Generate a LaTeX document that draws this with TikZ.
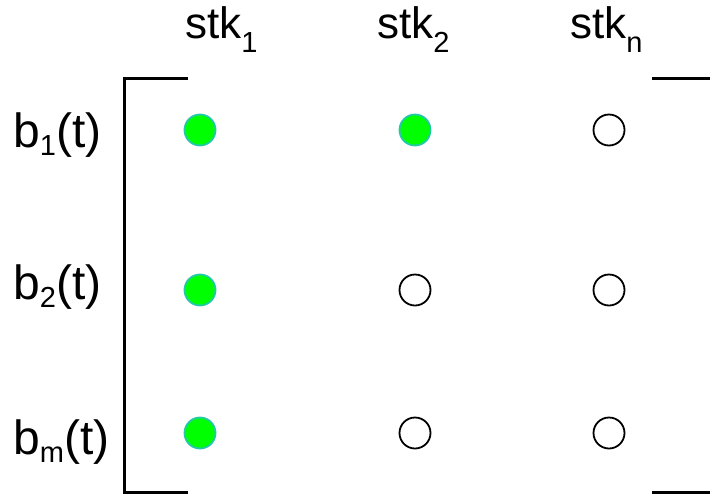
\documentclass[tikz,border=0pt]{standalone}
\usepackage{fontspec}
\setmainfont{Liberation Sans}
% lowered, smaller subscript text
\newcommand{\lowsub}[2]{\raisebox{-#1}{\fontsize{29}{29}\selectfont #2}}
\definecolor{onfill}{HTML}{00FF00}
\definecolor{onedge}{HTML}{22C8A8}
\begin{document}
\begin{tikzpicture}[x=1pt,y=-1pt,
  slot/.style={circle, inner sep=0pt, minimum size=31pt, line width=1.8pt},
  on/.style={slot, draw=onedge, fill=onfill},
  off/.style={slot, draw=black, fill=white},
  collabel/.style={anchor=base west, inner sep=0pt, font=\fontsize{44}{44}\selectfont},
  rowlabel/.style={anchor=base west, inner sep=0pt, font=\fontsize{48}{48}\selectfont},
  bracket/.style={line width=3pt}]
\useasboundingbox (0,0) rectangle (710,496);

% column headers
\node[collabel] (h1) at (185,38) {stk\lowsub{14pt}{1}};
\node[collabel] (h2) at (377,38) {stk\lowsub{14pt}{2}};
\node[collabel] (hn) at (570,38) {stk\lowsub{14pt}{n}};

% row labels
\node[rowlabel] (r1) at (13,147) {b\lowsub{8pt}{1}(t)};
\node[rowlabel] (r2) at (13,299) {b\lowsub{8pt}{2}(t)};
\node[rowlabel] (rm) at (13,454) {b\lowsub{8pt}{m}(t)};

% matrix entries
\node[on]  (c11) at (200,130) {};
\node[on]  (c12) at (415,130) {};
\node[off] (c1n) at (609,130) {};
\node[on]  (c21) at (200,290) {};
\node[off] (c22) at (415,290) {};
\node[off] (c2n) at (609,290) {};
\node[on]  (cm1) at (200,433) {};
\node[off] (cm2) at (415,433) {};
\node[off] (cmn) at (609,433) {};

% matrix brackets
\coordinate (ltop) at (124,78);
\coordinate (ltopend) at (188,78);
\coordinate (lbot) at (124,492);
\coordinate (lbotend) at (188,492);
\coordinate (rtop) at (652,78);
\coordinate (rtopend) at (710,78);
\coordinate (rbot) at (652,492);
\coordinate (rbotend) at (710,492);
\draw[bracket] (ltopend) -- (ltop) -- (lbot) -- (lbotend);
\draw[bracket] (rtop) -- (rtopend);
\draw[bracket] (rbot) -- (rbotend);
\end{tikzpicture}
\end{document}
